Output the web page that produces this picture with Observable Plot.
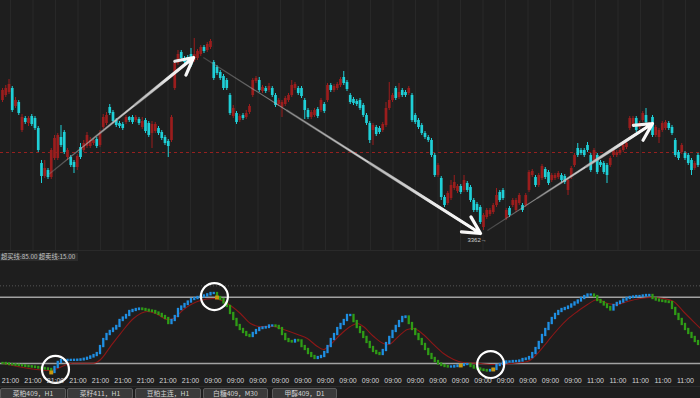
<!DOCTYPE html>
<html><head><meta charset="utf-8">
<script src="https://cdn.jsdelivr.net/npm/d3@7"></script>
<script src="https://cdn.jsdelivr.net/npm/@observablehq/plot@0.6"></script>
<style>
html,body{margin:0;padding:0;background:#1e1e1e;}
#wrap{position:relative;width:700px;height:398px;overflow:hidden;background:#1e1e1e;font-family:"Liberation Sans","Noto Sans CJK SC",sans-serif;}
#top{position:absolute;left:0;top:0;}
#bot{position:absolute;left:0;top:250px;border-top:1px solid #2a2a2a;}
#lbl{position:absolute;left:0;top:253px;font-family:"Noto Sans CJK SC",sans-serif;font-size:6.3px;color:#c4c4c4;background:#2c2c2c;padding:0 3px 0 1px;line-height:8px;white-space:nowrap;}
#tabs{position:absolute;left:0;top:386px;width:700px;height:12px;border-top:1px solid #2a2a2a;}
.tab{position:absolute;top:1px;height:9px;border:1px solid #5c5c5c;border-radius:2px;background:#3a3a3a;color:#d2d2d2;font-family:"Noto Sans CJK SC",sans-serif;font-size:6.8px;line-height:9px;text-align:center;white-space:nowrap;}
</style></head>
<body><div id="wrap"><div id="top"></div><div id="bot"></div><div id="lbl">超买线:85.00 超卖线:15.00</div><div id="tabs"></div></div>
<script>
// ---- price candles (one per bar) ----
const open = [
3492,3497,3500,3504,3486,3490,3462,3474,3469,3476,
3474,3464,3429,3416,3422,3415,3434,3434,3455,3460,
3435,3435,3430,3425,3445,3442,3446,3446,3449,3453,
3447,3465,3469,3485,3480,3472,3469,3468,3470,3475,
3475,3472,3473,3465,3472,3469,3459,3461,3464,3460,
3455,3451,3452,3504,3529,3540,3534,3535,3538,3532,
3534,3538,3545,3542,3545,3530,3525,3520,3516,3512,
3497,3476,3479,3472,3477,3475,3480,3497,3511,3512,
3501,3504,3502,3504,3497,3488,3485,3488,3492,3497,
3504,3504,3504,3492,3482,3475,3477,3483,3482,3488,
3492,3507,3502,3504,3507,3515,3510,3497,3493,3491,
3492,3487,3477,3469,3462,3465,3464,3462,3467,3484,
3492,3504,3495,3502,3500,3499,3497,3477,3472,3467,
3459,3455,3452,3437,3417,3414,3395,3389,3394,3404,
3401,3406,3402,3409,3405,3392,3388,3385,3365,3375,
3378,3380,3387,3400,3402,3374,3384,3387,3382,3389,
3387,3387,3402,3417,3415,3407,3414,3423,3420,3412,
3414,3415,3417,3416,3402,3415,3427,3444,3442,3442,
3447,3437,3432,3437,3430,3429,3427,3427,3437,3437,
3439,3442,3445,3464,3467,3474,3465,3472,3477,3465,
3475,3457,3455,3462,3464,3469,3465,3452,3440,3440,
3439,3437,3432,3424,3437];
const close = [
3502,3504,3508,3482,3492,3479,3475,3470,3474,3468,
3464,3442,3416,3424,3415,3442,3454,3457,3447,3440,
3442,3427,3425,3436,3435,3449,3457,3452,3452,3446,
3459,3475,3477,3479,3471,3467,3466,3464,3475,3472,
3470,3475,3469,3471,3461,3457,3468,3468,3459,3454,
3449,3446,3475,3529,3538,3534,3530,3530,3527,3538,
3541,3545,3541,3548,3551,3514,3519,3514,3504,3504,
3479,3484,3470,3476,3474,3479,3486,3512,3514,3502,
3505,3501,3506,3497,3487,3492,3490,3494,3497,3507,
3508,3499,3496,3482,3475,3480,3482,3476,3492,3481,
3507,3502,3506,3508,3513,3509,3503,3490,3489,3488,
3484,3477,3469,3452,3467,3458,3460,3468,3484,3492,
3497,3494,3500,3497,3497,3504,3472,3470,3465,3459,
3455,3452,3437,3417,3427,3395,3387,3399,3407,3410,
3406,3400,3412,3402,3392,3382,3382,3370,3377,3382,
3382,3387,3397,3392,3394,3382,3377,3392,3392,3397,
3382,3397,3420,3421,3407,3417,3426,3415,3409,3417,
3417,3419,3412,3410,3412,3424,3437,3437,3439,3437,
3442,3422,3442,3420,3427,3420,3417,3434,3442,3440,
3442,3447,3449,3474,3474,3462,3469,3479,3470,3467,
3457,3465,3462,3469,3470,3464,3459,3437,3434,3447,
3434,3429,3422,3429,3427];
const high = [
3504,3507,3513,3506,3495,3492,3478,3476,3476,3478,
3476,3466,3432,3432,3424,3444,3457,3459,3467,3462,
3444,3437,3432,3438,3449,3452,3460,3455,3454,3455,
3462,3478,3480,3488,3482,3474,3471,3470,3477,3476,
3477,3477,3475,3475,3474,3471,3471,3470,3466,3462,
3457,3453,3477,3532,3542,3542,3536,3537,3544,3554,
3543,3547,3547,3550,3553,3532,3527,3522,3518,3514,
3499,3487,3481,3478,3479,3482,3488,3514,3516,3515,
3507,3506,3509,3506,3499,3494,3492,3496,3499,3512,
3510,3506,3506,3494,3484,3482,3484,3485,3494,3490,
3509,3509,3508,3510,3515,3521,3512,3499,3495,3493,
3494,3489,3479,3471,3469,3467,3466,3470,3490,3510,
3499,3506,3509,3504,3502,3506,3499,3479,3474,3469,
3461,3457,3454,3439,3429,3416,3397,3401,3412,3417,
3408,3408,3417,3411,3407,3394,3390,3387,3379,3384,
3384,3389,3404,3402,3404,3384,3386,3394,3394,3399,
3389,3399,3422,3423,3417,3419,3428,3425,3422,3419,
3419,3421,3419,3418,3414,3426,3439,3449,3444,3444,
3450,3439,3444,3439,3432,3431,3429,3436,3444,3442,
3444,3449,3451,3476,3476,3476,3471,3481,3484,3469,
3477,3467,3464,3471,3472,3471,3467,3454,3442,3449,
3441,3439,3434,3431,3439];
const low = [
3490,3495,3498,3480,3484,3477,3460,3468,3466,3466,
3462,3440,3409,3414,3413,3413,3432,3432,3445,3438,
3432,3425,3419,3422,3433,3440,3444,3444,3447,3444,
3445,3463,3467,3477,3469,3465,3464,3462,3468,3470,
3468,3470,3467,3463,3459,3455,3444,3459,3457,3452,
3447,3435,3450,3502,3527,3532,3528,3528,3525,3530,
3532,3536,3539,3540,3543,3512,3517,3512,3502,3502,
3477,3474,3468,3470,3472,3473,3478,3495,3509,3500,
3499,3499,3500,3495,3485,3486,3475,3486,3490,3495,
3502,3497,3494,3473,3473,3473,3475,3474,3480,3479,
3490,3500,3500,3502,3505,3507,3501,3488,3487,3486,
3482,3475,3467,3449,3447,3456,3458,3460,3465,3482,
3490,3492,3493,3495,3495,3497,3470,3468,3463,3457,
3453,3450,3435,3415,3415,3392,3385,3387,3392,3402,
3399,3398,3400,3400,3390,3380,3380,3368,3362,3373,
3376,3378,3385,3390,3392,3372,3375,3385,3380,3387,
3380,3385,3400,3415,3405,3405,3412,3413,3407,3410,
3412,3413,3410,3408,3397,3413,3425,3435,3437,3435,
3440,3420,3430,3418,3425,3418,3409,3425,3435,3435,
3437,3440,3443,3462,3465,3460,3463,3470,3468,3463,
3455,3455,3449,3460,3462,3462,3457,3435,3432,3438,
3432,3427,3417,3422,3425];
const refLine = 3440;            // dashed reference price
const lowLabel = "3362→";
const lowLabelBar = 149, lowLabelPrice = 3352;

// ---- annotation arrows (bar index / price) ----
const arrowBar1 = [13.8, 61.8, 149.2];
const arrowP1   = [3417, 3535, 3362];
const arrowBar2 = [58.8, 147.1, 200.0];
const arrowP2   = [3535, 3359, 3469];

// ---- oscillator (one value per bar) ----
const osc = [
15.0,14.5,13.9,13.6,13.2,12.9,12.5,12.0,11.6,11.2,
10.8,10.2,9.7,9.2,8.7,5.5,10.8,16.1,18.2,18.2,
18.3,18.3,18.4,18.5,18.8,19.5,20.5,21.9,23.4,25.5,
32.9,40.3,45.6,48.8,51.4,54.1,60.4,63.0,65.7,69.9,
71.0,72.0,72.5,72.0,71.2,70.4,69.9,68.3,66.8,64.6,
62.5,57.2,60.4,64.6,72.0,74.6,77.3,79.9,82.6,83.6,
84.7,85.4,86.3,87.5,88.9,88.9,84.7,82.6,78.9,75.2,
67.8,61.5,55.1,50.9,47.7,44.6,43.5,46.7,49.8,51.9,
52.5,53.0,54.6,54.6,54.1,51.9,45.6,40.3,38.2,37.7,
39.3,38.8,32.9,29.8,25.5,22.4,20.3,21.3,22.4,26.6,
32.9,40.3,45.6,51.9,56.2,60.4,65.7,65.7,59.3,53.0,
47.7,42.5,37.2,31.9,27.7,25.5,24.5,28.7,36.1,42.5,
48.8,54.1,59.3,63.6,64.1,57.2,50.9,45.6,40.3,35.1,
29.8,24.5,20.3,17.1,14.5,12.9,11.8,11.3,11.3,11.8,
12.4,12.9,13.9,13.9,11.8,10.2,9.2,8.1,7.6,7.1,
7.6,8.7,12.9,13.9,15.5,16.6,16.6,17.1,17.1,17.6,
19.2,19.7,21.3,25.5,30.8,37.2,44.6,50.9,57.2,62.5,
66.8,69.9,72.0,73.1,74.6,76.8,78.9,81.0,83.6,85.7,
87.3,87.3,85.7,81.5,79.4,76.8,74.1,71.5,76.2,78.4,
79.9,82.0,83.6,84.7,85.2,85.7,85.7,86.3,86.8,86.8,
83.6,82.0,81.0,80.5,79.9,79.4,73.1,66.8,61.5,56.2,
50.9,46.7,42.5,38.2,35.1];
// signal line readings (bar index, value)
const sigBar = [0,14.8,21.5,28,30.2,33.2,36.3,40.3,44.6,47.7,50.8,52.6,55.7,60.9,64.9,69.2,73.2,76.3,79.4,83.4,86.5,90.8,93.8,96.9,98.8,100.9,104,107,109.2,111,114.2,117.2,118.8,121.5,124.6,126.5,129.5,132.6,135.7,138.8,141.8,147.1,151.1,156.3,161.5,164.6,167.7,170.8,173.8,176.9,180,183.1,186.2,189.2,192.3,196.3,199.4,203.4,206.5,209.5,212.6,214.8];
const sigVal = [15.3,7.6,15.3,15.3,19.2,32.9,46.6,62.5,69.9,66.8,61.5,62.5,72.0,81.5,83.6,78.4,67.8,57.2,54.1,54.1,50.9,45.6,41.4,32.9,29.8,35.1,45.6,54.1,57.2,54.1,43.5,36.1,35.1,42.5,50.9,51.9,45.6,35.1,25.5,19.2,16.1,15.0,13.9,15.0,17.1,25.5,38.2,50.9,61.5,69.9,77.3,82.6,78.4,77.3,80.5,83.6,84.7,83.6,80.5,69.9,59.3,51.9];
const crossBars = [15, 66, 141, 151];
const circleBar = [16.3, 65.2, 150.2];
const circleVal = [8.7, 85.7, 13.9];
const overbought = 85, oversold = 15, topLevel = 97;

// ---- labels ----
const timeLabels = [
"21:00","21:00","21:00","21:00","21:00","21:00","21:00","21:00","21:00",
"09:00","09:00","09:00","09:00","09:00","09:00","09:00","09:00","09:00","09:00","09:00","09:00","09:00","09:00","09:00","09:00","09:00",
"11:00","11:00","11:00","11:00","11:00"];
const tabLabels = ["菜粕409，H1","菜籽411，H1","豆粕主连，H1","白糖409，M30","甲醇409，D1"];

if (![close,high,low,osc].every(a => a.length === open.length)) throw new Error("length mismatch " + [open,close,high,low,osc].map(a=>a.length));

const RED = "#9b1d1d", CYAN = "#1fd0d8", BLUE = "#1f8fe3", GREEN = "#2f9c16", ORANGE = "#c9980f";
const bars = d3.range(open.length);
const candles = bars.map(i => ({i, o: open[i], c: close[i], h: high[i], l: low[i], col: close[i] >= open[i] ? RED : CYAN}));
const X = {domain: [-2/3.25, 698/3.25], range: [0, 700], axis: null};
const gridBars = timeLabels.map((_, k) => (8 + 22.5 * k) / 3.25);

const arrows = arrowBar1.map((b, k) => ({x1: b, y1: arrowP1[k], x2: arrowBar2[k], y2: arrowP2[k]}));
const layer = t => arrows.map(a => ({x1: a.x1 + (a.x2 - a.x1) * t, y1: a.y1 + (a.y2 - a.y1) * t, x2: a.x2, y2: a.y2}));
const L = {x1: "x1", y1: "y1", x2: "x2", y2: "y2", stroke: "url(#ag)"};

const topPlot = Plot.plot({
  width: 700, height: 250, margin: 0,
  x: X, y: {domain: [3342, 3592], range: [250, 0], axis: null},
  color: {type: "identity"},
  style: {background: "transparent", fontFamily: "Liberation Sans, sans-serif"},
  marks: [
    Plot.ruleX(gridBars, {stroke: "#282828", strokeWidth: 1}),
    Plot.ruleY([refLine], {stroke: "#a3201f", strokeDasharray: "3,3", strokeWidth: 0.9}),
    Plot.ruleX(candles, {x: "i", y1: "l", y2: "h", stroke: "col", strokeWidth: 1}),
    Plot.ruleX(candles, {x: "i", y1: "o", y2: "c", stroke: "col", strokeWidth: 2.7}),
    Plot.link(arrows, {...L, strokeWidth: 1.2}),
    Plot.link(layer(0.3), {...L, strokeWidth: 2.2}),
    Plot.arrow(layer(0.6), {...L, strokeWidth: 3.2, headLength: 9, headAngle: 55}),
    Plot.text([lowLabel], {x: () => lowLabelBar, y: () => lowLabelPrice, text: d => d, textAnchor: "end", fill: "#cfcfcf", fontSize: 6})
  ]
});
const g = d3.select(topPlot).insert("defs", ":first-child").append("linearGradient")
  .attr("id", "ag").attr("x1", 0).attr("y1", 0).attr("x2", 1).attr("y2", 0);
g.append("stop").attr("offset", 0).attr("stop-color", "#8a8a8a").attr("stop-opacity", 0.35);
g.append("stop").attr("offset", 0.55).attr("stop-color", "#e8e8e8").attr("stop-opacity", 0.95);
g.append("stop").attr("offset", 1).attr("stop-color", "#ffffff").attr("stop-opacity", 1);
document.getElementById("top").appendChild(topPlot);

const oscData = bars.map(i => ({i, v: osc[i], p: i ? osc[i - 1] : osc[i], col: i && osc[i] >= osc[i - 1] ? BLUE : GREEN}));
const signal = sigBar.map((b, k) => ({b, v: sigVal[k]}));
const crosses = crossBars.map(b => ({b, v: osc[b]}));
const circles = circleBar.map((b, k) => ({b, v: circleVal[k]}));

const botPlot = Plot.plot({
  width: 700, height: 136, marginTop: 0, marginRight: 0, marginLeft: 0, marginBottom: 12,
  x: X, y: {domain: [0, 100], range: [126.2, 31.5], axis: null},
  color: {type: "identity"},
  style: {background: "transparent", overflow: "visible", fontFamily: "Liberation Sans, sans-serif"},
  marks: [
    Plot.ruleY([topLevel], {stroke: "#555", strokeDasharray: "1,2"}),
    Plot.ruleY([overbought, oversold], {stroke: "#a2a2a2", strokeWidth: 1.6}),
    Plot.line(signal, {x: "b", y: "v", stroke: "#8c1717", strokeWidth: 1.1, curve: "monotone-x"}),
    Plot.ruleX(oscData, {x: "i", y1: "p", y2: "v", stroke: "col", strokeWidth: 2.3, strokeLinecap: "square"}),
    Plot.dot(crosses, {x: "b", y: "v", symbol: "square", r: 2.2, fill: ORANGE}),
    Plot.dot(circles, {x: "b", y: "v", r: 13.5, stroke: "#ffffff", strokeWidth: 2.2, fill: "none"}),
    Plot.text(gridBars, {x: d => d, text: (d, k) => timeLabels[k], frameAnchor: "bottom", dy: 7, fill: "#d4d4d4", fontSize: 7})
  ]
});
document.getElementById("bot").appendChild(botPlot);

const tabX = [0, 67, 135, 203, 272], tabW = [66, 66, 66, 65, 65];
tabLabels.forEach((t, k) => {
  const d = document.createElement("div");
  d.className = "tab"; d.textContent = t;
  d.style.left = tabX[k] + "px"; d.style.width = (tabW[k] - 2) + "px";
  document.getElementById("tabs").appendChild(d);
});
</script>
</body></html>
